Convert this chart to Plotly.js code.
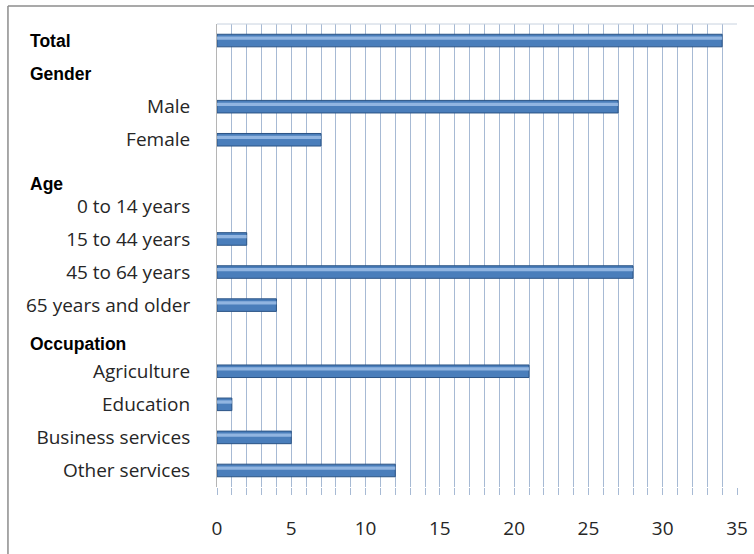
<!DOCTYPE html>
<html>
<head>
<meta charset="utf-8">
<script src="https://cdn.plot.ly/plotly-3.0.1.min.js"></script>
<style>
html,body{margin:0;padding:0;background:#fff;}
#chart{width:754px;height:554px;}
</style>
</head>
<body>
<div id="chart"></div>
<script>
// Category slots (top to bottom); empty label = header slot
var categories = ["Total", "", "Male", "Female", "", "0 to 14 years", "15 to 44 years", "45 to 64 years", "65 years and older", "", "Agriculture", "Education", "Business services", "Other services"];
var values = [34, null, 27, 7, null, 0, 2, 28, 4, null, 21, 1, 5, 12];
var headers = ["Total", "Gender", "Age", "Occupation"];
var xTicks = [0, 5, 10, 15, 20, 25, 30, 35];

var slots = categories.map(function (c, i) { return i; });
var tickText = categories.map(function (c, i) { return c === "Total" ? "" : c; });
var outline = values.map(function (v) { return v ? 1 : 0; });

var main = {
  type: "bar", orientation: "h",
  x: values, y: slots,
  width: 0.38,
  marker: { color: "#4a7ebb", line: { color: "#2b5485", width: outline } },
  hoverinfo: "x"
};
var shine = {
  type: "bar", orientation: "h",
  x: values, y: slots,
  width: 0.1, offset: -0.12,
  marker: { color: "rgba(170,200,238,0.75)", line: { width: 0 } },
  hoverinfo: "skip"
};

var headerPos = [0, 1, 4.33, 9.18];
var annotations = headers.map(function (h, i) {
  return {
    text: "<b>" + h + "</b>", xref: "paper", yref: "y",
    x: -0.3635, y: headerPos[i], xanchor: "left", yanchor: "middle",
    showarrow: false,
    font: { family: "Liberation Sans, Arial, sans-serif", size: 17.5, color: "#000" }
  };
});

var layout = {
  width: 754, height: 554,
  margin: { l: 217, r: 17, t: 24, b: 67 },
  paper_bgcolor: "#fff", plot_bgcolor: "#fff",
  showlegend: false,
  barmode: "overlay",
  font: { family: "Open Sans, sans-serif", size: 16, color: "#262626" },
  xaxis: {
    range: [0, 35], tickvals: xTicks, ticktext: xTicks.map(String),
    showgrid: true, gridcolor: "#a7bad4", gridwidth: 1,
    zeroline: false, showline: false,
    ticks: "outside", ticklen: 7, tickcolor: "#a7bad4",
    ticklabelstandoff: 17,
    tickfont: { family: "Open Sans, sans-serif", size: 19, color: "#262626" },
    minor: { dtick: 1, tick0: 0, showgrid: true, gridcolor: "#a7bad4", gridwidth: 1, ticks: "outside", ticklen: 7, tickcolor: "#a7bad4" },
    mirror: false
  },
  yaxis: {
    range: [13.5, -0.5],
    tickvals: slots, ticktext: tickText,
    showgrid: false, zeroline: false,
    showline: true, linecolor: "#b5b5b5", linewidth: 1,
    ticks: "", ticklabelstandoff: 22,
    tickfont: { family: "Open Sans, sans-serif", size: 19, color: "#262626" }
  },
  annotations: annotations,
  shapes: [
    { type: "line", xref: "paper", yref: "paper", x0: 0, x1: 1, y0: 1, y1: 1, line: { color: "#c8d2df", width: 1 } },
    { type: "line", xref: "paper", yref: "paper", x0: -0.402, x1: -0.402, y0: -0.2, y1: 1.039, line: { color: "#8c8c8c", width: 1.5 } },
    { type: "line", xref: "paper", yref: "paper", x0: -0.402, x1: 1.1, y0: 1.039, y1: 1.039, line: { color: "#8c8c8c", width: 1.5 } }
  ]
};

Plotly.newPlot("chart", [main, shine], layout, { displayModeBar: false, staticPlot: true });
</script>
</body>
</html>
